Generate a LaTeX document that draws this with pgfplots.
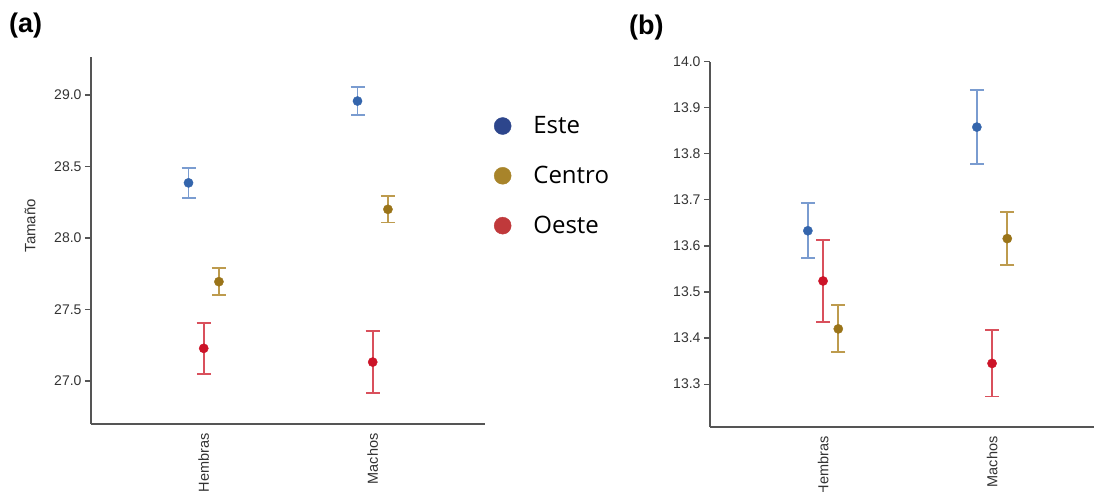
\documentclass[border=0pt]{standalone}
\usepackage{pgfplots}
\pgfplotsset{compat=1.18}
\usepackage{pgfplotstable}
\usepackage{fontspec}
\setmainfont{Liberation Sans}
\newfontfamily\legfont{Open Sans}

\definecolor{esteM}{HTML}{3465AC}
\definecolor{esteB}{HTML}{7A9CD0}
\definecolor{centroM}{HTML}{9A7419}
\definecolor{centroB}{HTML}{BD9B4E}
\definecolor{oesteM}{HTML}{CC1428}
\definecolor{oesteB}{HTML}{D9505C}
\definecolor{esteL}{HTML}{2D468C}
\definecolor{centroL}{HTML}{A8842A}
\definecolor{oesteL}{HTML}{C0393B}
\definecolor{axisgray}{HTML}{555555}

% Panel (a): Tamaño (mean and error) per sex; x = category position
\pgfplotstableread{
x y e
-0.09 28.386 0.106
0.91 28.958 0.097
}\aEste
\pgfplotstableread{
x y e
0.09 27.695 0.095
1.09 28.201 0.092
}\aCentro
\pgfplotstableread{
x y e
0.0 27.229 0.178
1.0 27.133 0.219
}\aOeste

% Panel (b)
\pgfplotstableread{
x y e
-0.09 13.633 0.060
0.91 13.858 0.080
}\bEste
\pgfplotstableread{
x y e
0.09 13.420 0.051
1.09 13.616 0.057
}\bCentro
\pgfplotstableread{
x y e
0.0 13.524 0.089
1.0 13.345 0.072
}\bOeste

\pgfplotsset{
  panel/.style={
    scale only axis,
    anchor=south west,
    axis x line*=bottom,
    axis y line*=left,
    axis line style={draw=axisgray, line width=1.6pt},
    xtick={0,1},
    xticklabels={Hembras,Machos},
    xtick style={draw=none},
    xticklabel style={rotate=90, anchor=east, font=\fontsize{14.5}{16}\selectfont, text=black!80},
    yticklabel style={font=\fontsize{14}{16}\selectfont, text=black!80},
    ytick style={draw=axisgray, line width=1.2pt},
    tick align=outside,
    major tick length=6pt,
    /pgf/number format/assume math mode=true,
    /pgf/number format/fixed,
    /pgf/number format/fixed zerofill,
    /pgf/number format/precision=1,
    clip=false,
  },
  grp/.style 2 args={
    only marks, mark=*, mark size=4.6pt,
    color=#1, mark options={draw=#1, fill=#1},
    error bars/y dir=both,
    error bars/y explicit,
    error bars/error bar style={draw=#2, line width=1.8pt},
    error bars/error mark options={draw=#2, line width=1.8pt, mark size=7pt, rotate=90},
  },
}

\begin{document}
\begin{tikzpicture}

\node[anchor=north west, inner sep=0pt, font=\bfseries\fontsize{27}{30}\selectfont] at (9pt,479pt) {(a)};
\node[anchor=north west, inner sep=0pt, font=\bfseries\fontsize{27}{30}\selectfont] at (629pt,477pt) {(b)};

\begin{axis}[
  panel,
  at={(91pt,68pt)},
  width=394.1pt, height=367pt,
  xmin=-0.667, xmax=1.665,
  ymin=26.70, ymax=29.266,
  ytick={27.0,27.5,28.0,28.5,29.0},
  ylabel={Tamaño},
  ylabel style={font=\fontsize{15}{17}\selectfont, text=black!80, at={(axis description cs:-0.132,0.54)}},
  legend style={
    at={(axis description cs:1.022,0.676)}, anchor=west,
    draw=none, fill=none, inner sep=0pt,
    font=\legfont\fontsize{24}{26}\selectfont,
    row sep=27pt,
    legend cell align=left,
  },
  legend image code/.code={\fill[#1] (7pt,0pt) circle (8.5pt);},
]
\addlegendimage{esteL, fill=esteL}
\addlegendentry{\hspace{20pt}Este}
\addlegendimage{centroL, fill=centroL}
\addlegendentry{\hspace{20pt}Centro}
\addlegendimage{oesteL, fill=oesteL}
\addlegendentry{\hspace{20pt}Oeste}

\addplot[grp={esteM}{esteB}, forget plot] table[x=x, y=y, y error=e] {\aEste};
\addplot[grp={centroM}{centroB}, forget plot] table[x=x, y=y, y error=e] {\aCentro};
\addplot[grp={oesteM}{oesteB}, forget plot] table[x=x, y=y, y error=e] {\aOeste};
\end{axis}

\begin{axis}[
  panel,
  at={(710pt,65pt)},
  width=391.9pt, height=365.3pt,
  xmin=-0.669, xmax=1.65,
  ymin=13.207, ymax=14.0,
  ytick={13.3,13.4,13.5,13.6,13.7,13.8,13.9,14.0},
]
\addplot[grp={esteM}{esteB}] table[x=x, y=y, y error=e] {\bEste};
\addplot[grp={centroM}{centroB}] table[x=x, y=y, y error=e] {\bCentro};
\addplot[grp={oesteM}{oesteB}] table[x=x, y=y, y error=e] {\bOeste};
\end{axis}

\pgfresetboundingbox
\useasboundingbox (0pt,0pt) rectangle (1094pt,492pt);
\end{tikzpicture}
\end{document}
